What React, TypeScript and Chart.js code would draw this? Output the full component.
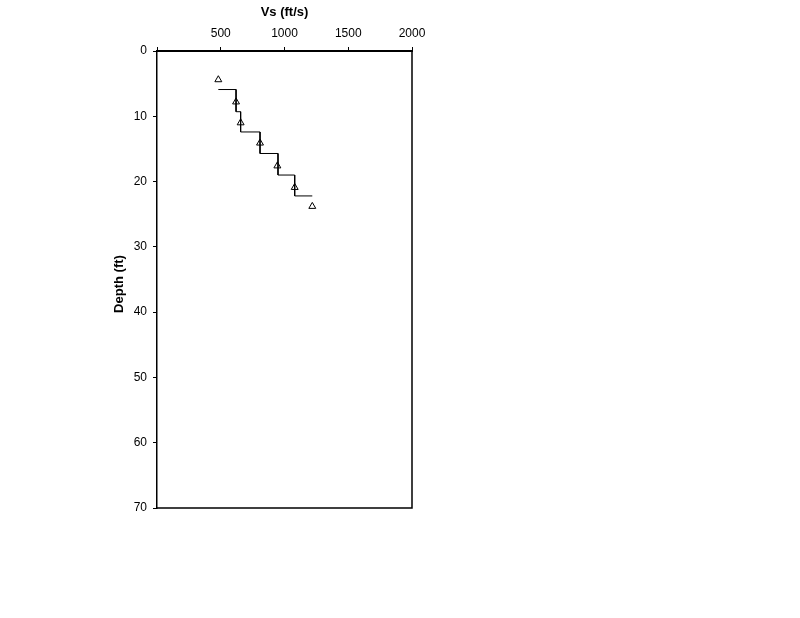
import React, { useEffect, useRef } from "react";
import { Chart, registerables } from "chart.js";

Chart.register(...registerables);

// Measured shear-wave velocity points (triangles)
const pointVs = [481, 620, 656, 808, 944, 1080, 1218];
const pointDepth = [4.4, 7.8, 11.0, 14.1, 17.6, 20.9, 23.8];

// Interpreted layered (step) profile
const stepVs = [481, 620, 620, 656, 656, 808, 808, 949, 949, 1080, 1080, 1218];
const stepDepth = [5.9, 5.9, 9.3, 9.3, 12.4, 12.4, 15.7, 15.7, 19.0, 19.0, 22.2, 22.2];

const xTicks = [0, 500, 1000, 1500, 2000];
const yTicks = [0, 10, 20, 30, 40, 50, 60, 70];

const xTitle = "Vs (ft/s)";
const yTitle = "Depth (ft)";

const FONT = "'Liberation Sans', Arial, sans-serif";

export default function App() {
  const ref = useRef<HTMLCanvasElement | null>(null);

  useEffect(() => {
    if (!ref.current) return;
    const framePlugin = {
      id: "frame",
      afterDraw(chart: any) {
        const { ctx, chartArea } = chart;
        ctx.save();
        ctx.strokeStyle = "#000";
        ctx.lineWidth = 1.5;
        ctx.beginPath();
        ctx.moveTo(chartArea.right, chartArea.top);
        ctx.lineTo(chartArea.right, chartArea.bottom);
        ctx.lineTo(chartArea.left, chartArea.bottom);
        ctx.stroke();
        ctx.fillStyle = "#000";
        ctx.font = "bold 13px " + FONT;
        ctx.textAlign = "center";
        ctx.textBaseline = "middle";
        ctx.fillText(xTitle, (chartArea.left + chartArea.right) / 2, 12);
        ctx.translate(119, 284);
        ctx.rotate(-Math.PI / 2);
        ctx.fillText(yTitle, 0, 0);
        ctx.restore();
      },
    };

    const chart = new Chart(ref.current, {
      type: "scatter",
      data: {
        datasets: [
          {
            label: "step",
            data: stepVs.map((v, i) => ({ x: v, y: stepDepth[i] })),
            showLine: true,
            borderColor: "#000",
            borderWidth: 1,
            pointRadius: 0,
            fill: false,
          },
          {
            label: "measured",
            data: pointVs.map((v, i) => ({ x: v, y: pointDepth[i] })),
            pointStyle: "triangle",
            pointRadius: 4,
            pointBorderColor: "#000",
            pointBackgroundColor: "#fff",
            pointBorderWidth: 1,
            showLine: false,
          },
        ],
      },
      options: {
        responsive: false,
        animation: false,
        layout: { padding: { left: 0, top: 0, right: 388, bottom: 110 } },
        plugins: {
          legend: { display: false },
          tooltip: { enabled: false },
        },
        scales: {
          x: {
            type: "linear",
            position: "top",
            min: 0,
            max: 2000,
            afterFit: (s: any) => {
              s.height = 51;
            },
            afterBuildTicks: (s: any) => {
              s.ticks = xTicks.map((v) => ({ value: v }));
            },
            ticks: {
              color: "#000",
              padding: 6,
              font: { size: 12, family: FONT },
              callback: (v: any) => (v === 0 ? "" : String(v)),
              maxRotation: 0,
            },
            grid: {
              drawOnChartArea: false,
              drawTicks: true,
              tickLength: 4,
              color: "#000",
            },
            border: { display: true, color: "#000", width: 2 },
          },
          y: {
            type: "linear",
            position: "left",
            reverse: true,
            min: 0,
            max: 70,
            afterFit: (s: any) => {
              s.width = 157;
            },
            afterBuildTicks: (s: any) => {
              s.ticks = yTicks.map((v) => ({ value: v }));
            },
            ticks: {
              color: "#000",
              padding: 6,
              font: { size: 12, family: FONT },
            },
            grid: {
              drawOnChartArea: false,
              drawTicks: true,
              tickLength: 4,
              color: "#000",
            },
            border: { display: true, color: "#000", width: 1.5 },
          },
        },
      },
      plugins: [framePlugin],
    });
    return () => chart.destroy();
  }, []);

  return (
    <div style={{ position: "absolute", left: 0, top: 0, width: 800, height: 618, background: "#fff" }}>
      <canvas ref={ref} width={800} height={618} style={{ width: 800, height: 618 }} />
    </div>
  );
}
